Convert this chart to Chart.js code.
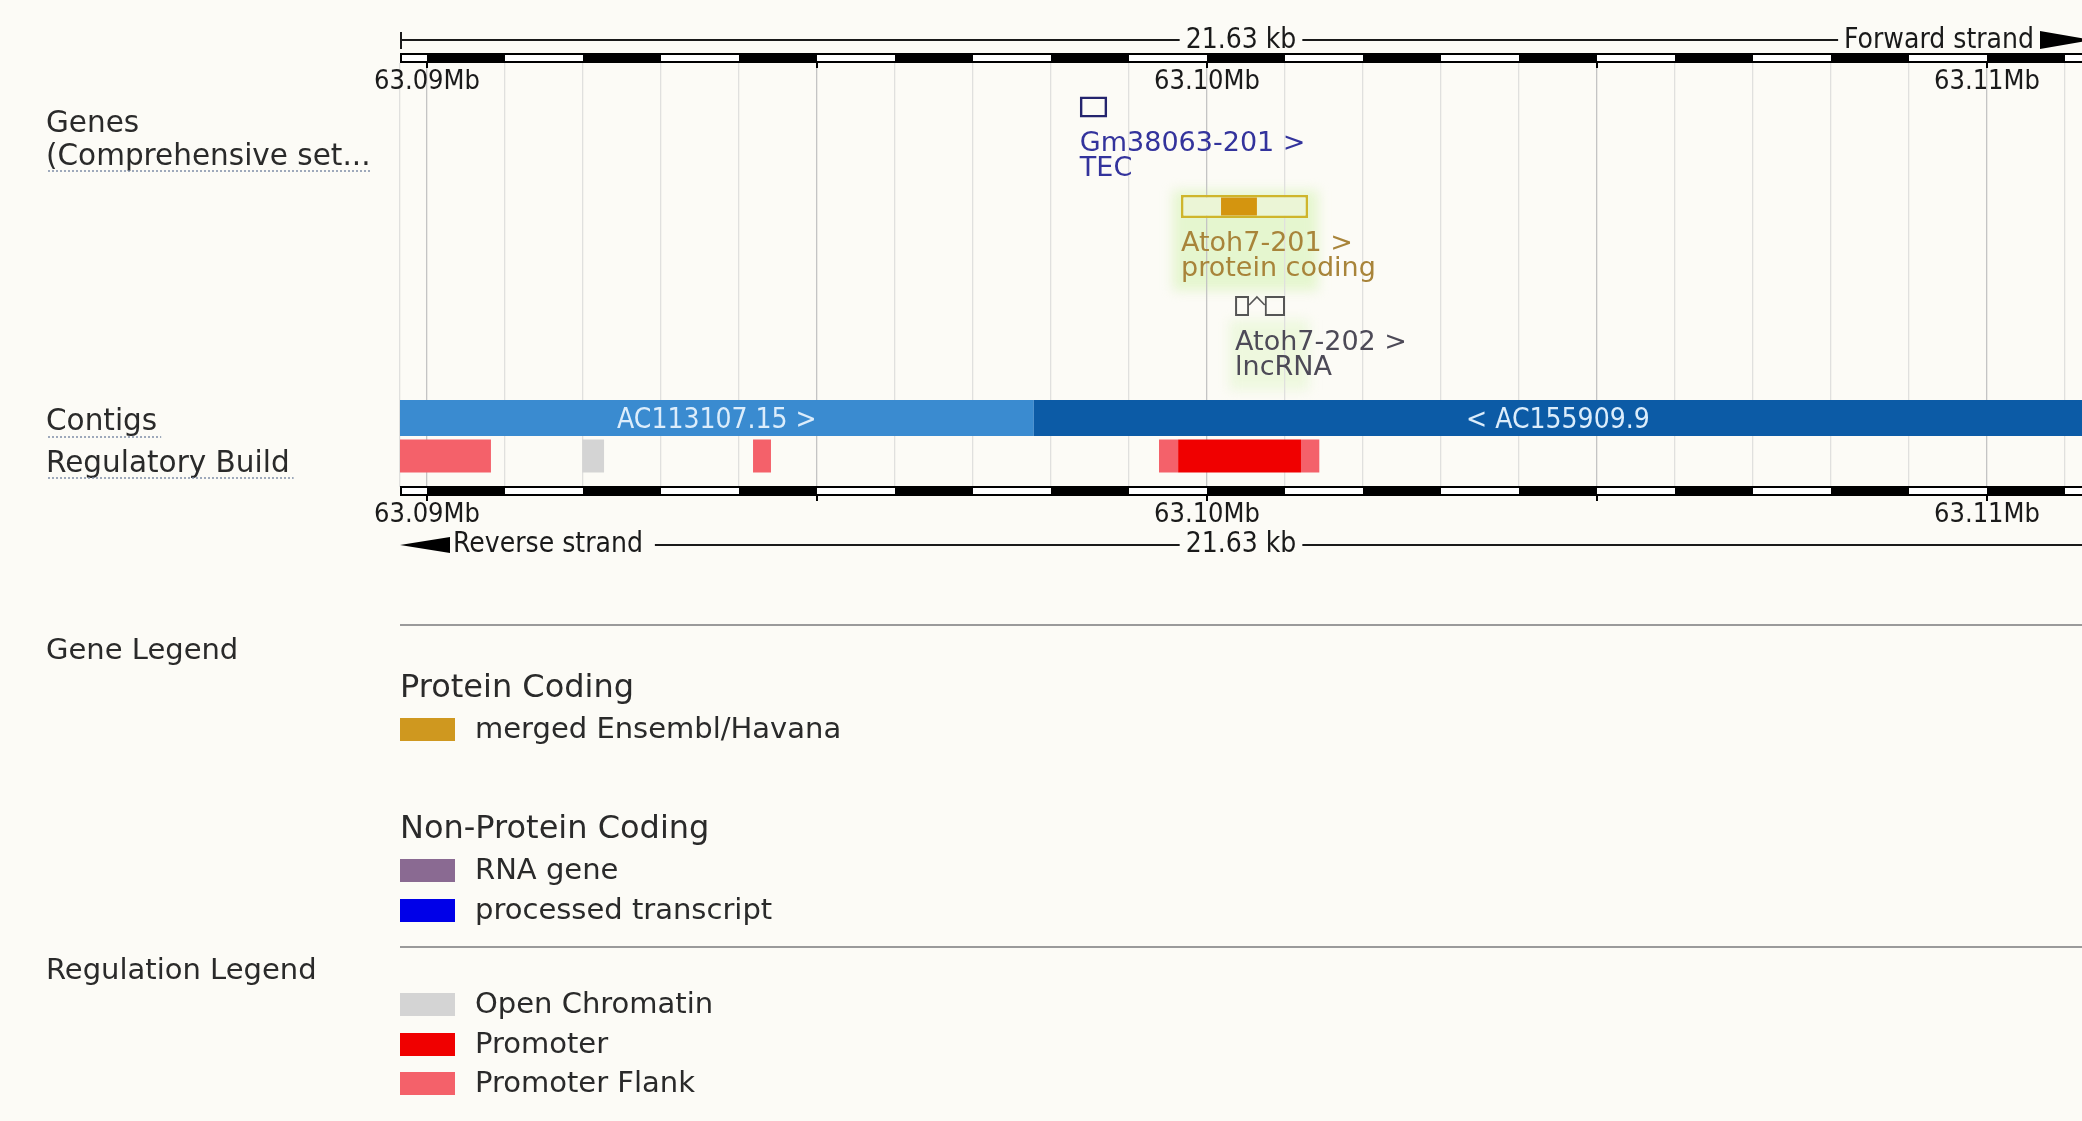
<!DOCTYPE html>
<html>
<head>
<meta charset="utf-8">
<script src="https://cdn.jsdelivr.net/npm/chart.js@4.4.1/dist/chart.umd.min.js"></script>
<style>
html,body{margin:0;padding:0;background:#fcfbf6;overflow:hidden}
canvas{display:block}
</style>
</head>
<body>
<canvas id="c" width="2082" height="1121"></canvas>
<script>
// ---------------- DATA (kb on chromosome) ----------------
const viewStartKb = 63089.654;
const viewEndKb = 63111.218;
const regionLengthLabel = '21.63 kb';
const tickValuesKb = [63090, 63100, 63110];
const tickLabels = ['63.09Mb', '63.10Mb', '63.11Mb'];

const trackLabels = ['Genes', '(Comprehensive set...', 'Contigs', 'Regulatory Build'];

const transcriptNames = ['Gm38063-201 >', 'Atoh7-201 >', 'Atoh7-202 >'];
const transcriptBiotypes = ['TEC', 'protein coding', 'lncRNA'];
const gm38063Exons = [[63098.37, 63098.72]];
const atoh7201Exons = [[63099.667, 63101.295]];
const atoh7201Cds = [[63100.18, 63100.64]];
const atoh7202Exons = [[63100.36, 63100.54], [63100.74, 63101.00]];

const contigNames = ['AC113107.15 >', '< AC155909.9'];
const contigSpans = [[63085.0, 63097.78], [63097.78, 63116.0]];

const promoterFlank = [[63089.60, 63090.82], [63094.18, 63094.41], [63099.385, 63099.63], [63101.205, 63101.44]];
const promoter = [[63099.63, 63101.205]];
const openChromatin = [[63091.99, 63092.27]];

const geneLegendGroups = ['Protein Coding', 'Non-Protein Coding'];
const geneLegendItems = [['merged Ensembl/Havana'], ['RNA gene', 'processed transcript']];
const regLegendItems = ['Open Chromatin', 'Promoter', 'Promoter Flank'];

// ---------------- STYLE / LAYOUT ----------------
const BG = '#fcfbf6';
const C = {
  gmBox: '#24246e', gmText: '#33339c',
  a201Border: '#cfb52c', a201Fill: '#ebf5d6', a201Cds: '#d4950f', a201Text: '#a8843a',
  a202Box: '#555555', a202Text: '#4d4a57',
  contig: ['#3a8bd0', '#0c5ba6'], contigText: '#dcedfb',
  flank: '#f4616a', promoter: '#f00000', open: '#d4d4d4',
  merged: '#cf981f', rna: '#8a6a92', processed: '#0000e8',
  text: '#2a2a2a', ruler: '#1a1a1a', under: '#7f8fa8'
};
const rows = { gm: 107, a201: 206.5, a202: 306, contig: 418, reg: 456 };
const thick = { gm: 21, a201: 23, a201cds: 18, a202: 20, contig: 36, reg: 33 };
const COND = '"DejaVu Sans Condensed", "DejaVu Sans", sans-serif';
const SANS = '"DejaVu Sans", sans-serif';

const toPts = (spans, y) => spans.map(s => ({ x: s, y }));
const barBase = { grouped: false, borderSkipped: false, inflateAmount: 0 };

const datasets = [
  Object.assign({ label: 'Atoh7-201 CDS', order: 1, data: toPts(atoh7201Cds, rows.a201),
    backgroundColor: C.a201Cds, borderWidth: 0, barThickness: thick.a201cds }, barBase),
  Object.assign({ label: 'Atoh7-201', order: 2, data: toPts(atoh7201Exons, rows.a201),
    backgroundColor: C.a201Fill, borderColor: C.a201Border, borderWidth: 2.5, barThickness: thick.a201 }, barBase),
  Object.assign({ label: 'Gm38063-201', order: 3, data: toPts(gm38063Exons, rows.gm),
    backgroundColor: 'rgba(0,0,0,0)', borderColor: C.gmBox, borderWidth: 2.5, barThickness: thick.gm }, barBase),
  Object.assign({ label: 'Atoh7-202', order: 4, data: toPts(atoh7202Exons, rows.a202),
    backgroundColor: 'rgba(0,0,0,0)', borderColor: C.a202Box, borderWidth: 2, barThickness: thick.a202 }, barBase),
  Object.assign({ label: 'Contigs', order: 5, data: toPts(contigSpans, rows.contig),
    backgroundColor: C.contig, borderWidth: 0, barThickness: thick.contig }, barBase),
  Object.assign({ label: 'Promoter', order: 6, data: toPts(promoter, rows.reg),
    backgroundColor: C.promoter, borderWidth: 0, barThickness: thick.reg }, barBase),
  Object.assign({ label: 'Promoter Flank', order: 7, data: toPts(promoterFlank, rows.reg),
    backgroundColor: C.flank, borderWidth: 0, barThickness: thick.reg }, barBase),
  Object.assign({ label: 'Open Chromatin', order: 8, data: toPts(openChromatin, rows.reg),
    backgroundColor: C.open, borderWidth: 0, barThickness: thick.reg }, barBase)
];

function drawScaleBar(c, xs, top, h) {
  const L = xs.left, R = xs.right;
  c.fillStyle = '#000';
  c.fillRect(L, top, R - L, h);
  c.fillStyle = '#ffffff';
  for (let k = Math.floor(viewStartKb); k < viewEndKb; k++) {
    if (Math.abs(k % 2) === 1) {
      const a = Math.max(L + 2, xs.getPixelForValue(k));
      const b = Math.min(R, xs.getPixelForValue(k + 1));
      if (b > a) c.fillRect(a, top + 2, b - a, h - 4);
    }
  }
  c.fillStyle = '#000';
  for (let k = Math.ceil(viewStartKb / 5) * 5; k <= viewEndKb; k += 5) {
    const px = Math.round(xs.getPixelForValue(k));
    c.fillRect(px - 1, top + h - 1, 2, 6);
  }
}

function underline(c, x, y, w) {
  c.save();
  c.strokeStyle = C.under; c.lineWidth = 1.6; c.setLineDash([2, 2]);
  c.beginPath(); c.moveTo(x, y); c.lineTo(x + w, y); c.stroke();
  c.restore();
}

const ensemblPlugin = {
  id: 'ensembl',
  beforeDraw(chart) {
    const c = chart.ctx, xs = chart.scales.x;
    c.save();
    c.fillStyle = BG;
    c.fillRect(0, 0, chart.width, chart.height);
    // soft highlight behind Atoh7 labels
    c.filter = 'blur(6px)';
    c.fillStyle = 'rgba(221,244,194,0.75)';
    const h1 = xs.getPixelForValue(atoh7201Exons[0][0]);
    const h2 = xs.getPixelForValue(atoh7201Exons[0][1]);
    c.fillRect(h1 - 8, rows.a201 - 16, (h2 - h1) + 18, 100);
    c.fillStyle = 'rgba(228,246,206,0.6)';
    const h3 = xs.getPixelForValue(atoh7202Exons[0][0]);
    c.fillRect(h3 - 6, rows.a202 + 14, 80, 70);
    c.restore();
  },
  afterDatasetsDraw(chart) {
    const c = chart.ctx, xs = chart.scales.x, ys = chart.scales.y;
    const L = xs.left, R = xs.right;
    c.save();

    // intron connector of Atoh7-202
    c.strokeStyle = C.a202Box; c.lineWidth = 1.6;
    for (let i = 0; i < atoh7202Exons.length - 1; i++) {
      const a = xs.getPixelForValue(atoh7202Exons[i][1]);
      const b = xs.getPixelForValue(atoh7202Exons[i + 1][0]);
      const yTop = ys.getPixelForValue(rows.a202) - thick.a202 / 2;
      c.beginPath();
      c.moveTo(a, yTop + 9); c.lineTo((a + b) / 2, yTop + 1); c.lineTo(b, yTop + 9);
      c.stroke();
    }

    // gene labels
    const geneStarts = [gm38063Exons[0][0], atoh7201Exons[0][0], atoh7202Exons[0][0]];
    const geneRows = [rows.gm, rows.a201, rows.a202];
    const geneColors = [C.gmText, C.a201Text, C.a202Text];
    c.font = '27px ' + SANS;
    c.textAlign = 'left'; c.textBaseline = 'alphabetic';
    for (let i = 0; i < transcriptNames.length; i++) {
      const x = xs.getPixelForValue(geneStarts[i]);
      const y = ys.getPixelForValue(geneRows[i]);
      c.fillStyle = geneColors[i];
      c.fillText(transcriptNames[i], x, y + 44);
      c.fillText(transcriptBiotypes[i], x, y + 69);
    }

    // contig labels
    c.font = '28px ' + COND;
    c.fillStyle = C.contigText; c.textAlign = 'center';
    for (let i = 0; i < contigNames.length; i++) {
      const a = Math.max(L, xs.getPixelForValue(contigSpans[i][0]));
      const b = Math.min(R, xs.getPixelForValue(contigSpans[i][1]));
      c.fillText(contigNames[i], (a + b) / 2, ys.getPixelForValue(rows.contig) + 10);
    }

    // scale bars
    drawScaleBar(c, xs, 53, 10);
    drawScaleBar(c, xs, 486, 10);

    // tick labels
    c.font = '27px ' + COND;
    c.fillStyle = C.ruler; c.textAlign = 'center';
    tickValuesKb.forEach((v, i) => {
      const px = xs.getPixelForValue(v);
      c.fillText(tickLabels[i], px, 89);
      c.fillText(tickLabels[i], px, 522);
    });

    // top strand ruler
    const mid = (L + R) / 2;
    c.font = '28px ' + COND;
    const lw = c.measureText(regionLengthLabel).width;
    c.strokeStyle = C.ruler; c.lineWidth = 2;
    c.fillText(regionLengthLabel, mid, 48);
    c.textAlign = 'right';
    const fwdRight = R - 48;
    c.fillText('Forward strand', fwdRight, 48);
    const fw = c.measureText('Forward strand').width;
    c.beginPath();
    c.moveTo(L + 1, 32); c.lineTo(L + 1, 49);
    c.moveTo(L + 1, 40); c.lineTo(mid - lw / 2 - 6, 40);
    c.moveTo(mid + lw / 2 + 6, 40); c.lineTo(fwdRight - fw - 6, 40);
    c.stroke();
    c.fillStyle = '#000';
    c.beginPath(); c.moveTo(R - 42, 31); c.lineTo(R + 10, 40); c.lineTo(R - 42, 49); c.closePath(); c.fill();

    // bottom strand ruler
    c.fillStyle = '#000';
    c.beginPath(); c.moveTo(L, 545); c.lineTo(L + 50, 537); c.lineTo(L + 50, 553); c.closePath(); c.fill();
    c.fillStyle = C.ruler; c.textAlign = 'left';
    c.fillText('Reverse strand', L + 53, 552);
    const rw = c.measureText('Reverse strand').width;
    c.textAlign = 'center';
    c.fillText(regionLengthLabel, mid, 552);
    c.beginPath();
    c.moveTo(L + 53 + rw + 12, 545); c.lineTo(mid - lw / 2 - 6, 545);
    c.moveTo(mid + lw / 2 + 6, 545); c.lineTo(R, 545);
    c.stroke();

    // left track labels
    c.font = '29.5px ' + SANS; c.fillStyle = C.text; c.textAlign = 'left';
    c.fillText(trackLabels[0], 46, 132);
    c.fillText(trackLabels[1], 46, 165);
    underline(c, 48, 171, c.measureText(trackLabels[1]).width - 2);
    c.fillText(trackLabels[2], 46, 430);
    underline(c, 48, 437, c.measureText(trackLabels[2]).width + 2);
    c.fillText(trackLabels[3], 46, 472);
    underline(c, 48, 478, c.measureText(trackLabels[3]).width + 2);

    // legends
    c.strokeStyle = '#9a9a9a'; c.lineWidth = 2;
    c.beginPath(); c.moveTo(L, 625); c.lineTo(R, 625); c.moveTo(L, 947); c.lineTo(R, 947); c.stroke();
    c.fillStyle = C.text;
    c.font = '29px ' + SANS;
    c.fillText('Gene Legend', 46, 659);
    c.fillText('Regulation Legend', 46, 979);

    const geneColorsLegend = [[C.merged], [C.rna, C.processed]];
    const groupBaselines = [697, 838];
    const itemBottoms = [[741], [882, 922]];
    geneLegendGroups.forEach((g, gi) => {
      c.font = '32px ' + SANS; c.fillStyle = C.text;
      c.fillText(g, L, groupBaselines[gi]);
      c.font = '29px ' + SANS;
      geneLegendItems[gi].forEach((t, ii) => {
        const b = itemBottoms[gi][ii];
        c.fillStyle = geneColorsLegend[gi][ii];
        c.fillRect(L, b - 23, 55, 23);
        c.fillStyle = C.text;
        c.fillText(t, L + 75, b - 3);
      });
    });
    const regColors = [C.open, C.promoter, C.flank];
    const regBottoms = [1016, 1056, 1095];
    c.font = '29px ' + SANS;
    regLegendItems.forEach((t, i) => {
      const b = regBottoms[i];
      c.fillStyle = regColors[i];
      c.fillRect(L, b - 23, 55, 23);
      c.fillStyle = C.text;
      c.fillText(t, L + 75, b - 3);
    });
    c.restore();
  }
};

const gridKb = [viewStartKb];
for (let k = Math.ceil(viewStartKb); k <= viewEndKb; k++) gridKb.push(k);

new Chart(document.getElementById('c'), {
  type: 'bar',
  data: { datasets },
  options: {
    indexAxis: 'y',
    responsive: false,
    animation: false,
    devicePixelRatio: 1,
    events: [],
    layout: { padding: { left: 400, right: 0, top: 63, bottom: 1121 - 487 } },
    plugins: { legend: { display: false }, tooltip: { enabled: false } },
    scales: {
      x: {
        type: 'linear', position: 'top', min: viewStartKb, max: viewEndKb, offset: false,
        ticks: { display: false },
        border: { display: false },
        grid: {
          drawTicks: false, lineWidth: 1.3, offset: false,
          color: (ctx) => {
            const v = ctx.tick ? ctx.tick.value : 0;
            return Math.abs(v / 5 - Math.round(v / 5)) < 1e-6 ? '#c4c4c4' : '#e0e0de';
          }
        },
        afterBuildTicks: (s) => { s.ticks = gridKb.map(v => ({ value: v })); },
        afterFit: (s) => { s.height = 0; }
      },
      y: { type: 'linear', min: 63, max: 487, reverse: true, display: false, offset: false, grace: 0 }
    }
  },
  plugins: [ensemblPlugin]
});
</script>
</body>
</html>
